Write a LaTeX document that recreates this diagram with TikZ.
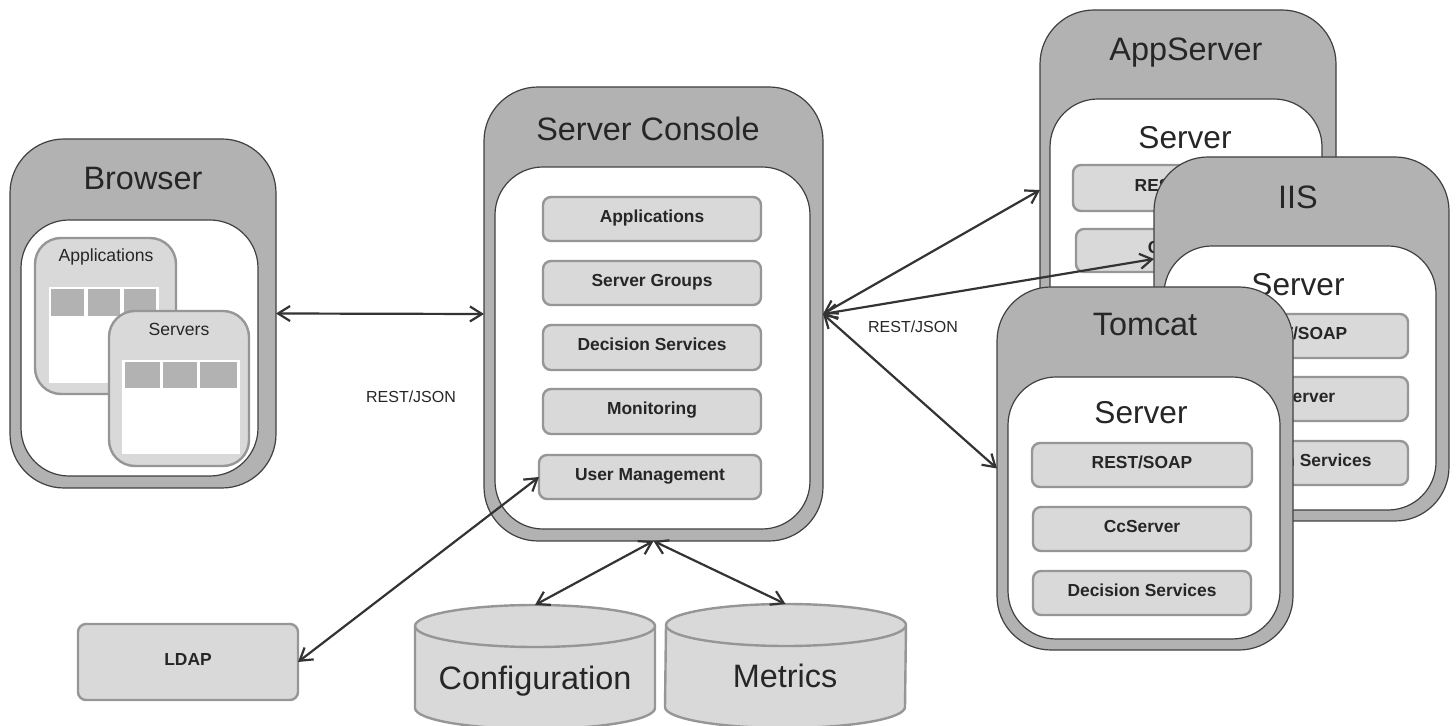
\documentclass[tikz,border=0pt]{standalone}
\usepackage{fontspec}
\setmainfont{Liberation Sans}
\usetikzlibrary{arrows.meta,calc}
\definecolor{outerfill}{HTML}{B2B2B2}
\definecolor{outerline}{HTML}{404040}
\definecolor{boxfill}{HTML}{D9D9D9}
\definecolor{boxline}{HTML}{969696}
\definecolor{inktext}{HTML}{262626}
\definecolor{arrowink}{HTML}{333333}
\newcommand\pxbox[7]{\node[#1,minimum width={(#5-#3)*0.5pt},minimum height={(#6-#4)*0.5pt}] (#2) at ({(#3+#5)/2},{(#4+#6)/2}) {#7};}
\newcommand\pxstore[1]{%
  \draw[storeline] ($(#1.north west)+(0,21)$) arc[x radius=120,y radius=21,start angle=180,end angle=360]
    -- ($(#1.south east)+(0,-21)$) arc[x radius=120,y radius=21,start angle=0,end angle=180] -- cycle;
  \draw[storeline] ($(#1.north west)+(0,21)$) arc[x radius=120,y radius=21,start angle=180,end angle=0];
}
\tikzset{
  every node/.style={outer sep=0pt,inner sep=0pt,text=inktext},
  outerbox/.style={draw=outerline,fill=outerfill,line width=0.6pt,rounded corners=27pt},
  innerbox/.style={draw=outerline,fill=white,line width=0.6pt,rounded corners=24pt},
  compbox/.style={draw=boxline,fill=boxfill,line width=1.2pt,rounded corners=4pt,font=\bfseries\fontsize{8.7}{10}\selectfont,text height=6.3pt,text depth=3.2pt},
  panel/.style={draw=boxline,fill=boxfill,line width=1.2pt,rounded corners=13pt},
  tablebody/.style={fill=white},
  tablecell/.style={fill=outerfill},
  titletext/.style={font=\fontsize{16.2}{18}\selectfont},
  servertext/.style={font=\fontsize{15.8}{18}\selectfont},
  smalltext/.style={font=\fontsize{8.8}{10}\selectfont},
  notetext/.style={font=\fontsize{8}{10}\selectfont},
  storeline/.style={draw=boxline,fill=boxfill,line width=1.2pt},
  link/.style={draw=arrowink,line width=1.1pt,{Straight Barb[length=6pt,width=7.5pt]}-{Straight Barb[length=6pt,width=7.5pt]}}
}
\begin{document}
\begin{tikzpicture}[x=0.5pt,y=-0.5pt]
\useasboundingbox (0,0) rectangle (1456,726);
% Browser
\pxbox{outerbox}{browser}{10}{139}{276}{488}{}
\node[titletext] (browsertitle) at (143,179) {Browser};
\pxbox{innerbox}{browserin}{21}{220}{258}{476}{}
\pxbox{panel}{apppanel}{35}{238}{176}{394}{}
\node[smalltext] (apptitle) at (106,257) {Applications};
\pxbox{tablebody}{apptable}{49}{287}{159}{383}{}
\pxbox{tablecell}{appa}{51}{289}{84}{316}{}
\pxbox{tablecell}{appb}{88}{289}{120}{316}{}
\pxbox{tablecell}{appc}{124}{289}{156}{316}{}
\pxbox{panel}{srvpanel}{109}{311}{249}{466}{}
\node[smalltext] (srvtitle) at (179,329) {Servers};
\pxbox{tablebody}{srvtable}{122}{360}{240}{454}{}
\pxbox{tablecell}{srva}{125}{362}{160}{388}{}
\pxbox{tablecell}{srvb}{163}{362}{197}{388}{}
\pxbox{tablecell}{srvc}{200}{362}{237}{388}{}
% Server Console
\pxbox{outerbox}{console}{484}{87}{823}{541}{}
\node[titletext] (consoletitle) at (648,129) {Server Console};
\pxbox{innerbox}{consolein}{495}{167}{810}{529}{}
\pxbox{compbox}{capps}{543}{197}{761}{241}{Applications}
\pxbox{compbox}{cgroups}{543}{261}{761}{305}{Server Groups}
\pxbox{compbox}{cdec}{543}{325}{761}{370}{Decision Services}
\pxbox{compbox}{cmon}{543}{389}{761}{434}{Monitoring}
\pxbox{compbox}{cuser}{539}{455}{761}{499}{User Management}
% AppServer
\pxbox{outerbox}{app}{1040}{10}{1336}{370}{}
\node[titletext] (apptitleb) at (1186,53) {AppServer};
\pxbox{innerbox}{appin}{1050}{99}{1322}{360}{}
\node[servertext] (appsrv) at (1185,138) {Server};
\pxbox{compbox}{arest}{1073}{165}{1297}{211}{REST/SOAP}
\pxbox{compbox}{acc}{1076}{229}{1296}{272}{CcServer}
% IIS
\pxbox{outerbox}{iis}{1154}{157}{1449}{521}{}
\node[titletext] (iistitle) at (1298,197) {IIS};
\pxbox{innerbox}{iisin}{1164}{246}{1436}{510}{}
\node[servertext] (iissrv) at (1298,285) {Server};
\pxbox{compbox}{irest}{1186}{314}{1408}{358}{REST/SOAP}
\pxbox{compbox}{icc}{1186}{377}{1408}{421}{CcServer}
\pxbox{compbox}{idec}{1186}{441}{1408}{485}{Decision Services}
% Tomcat
\pxbox{outerbox}{tomcat}{997}{287}{1293}{650}{}
\node[titletext] (tomcattitle) at (1145,325) {Tomcat};
\pxbox{innerbox}{tomcatin}{1008}{377}{1280}{639}{}
\node[servertext] (tomcatsrv) at (1141,413) {Server};
\pxbox{compbox}{trest}{1032}{443}{1252}{487}{REST/SOAP}
\pxbox{compbox}{tcc}{1033}{507}{1251}{551}{CcServer}
\pxbox{compbox}{tdec}{1033}{571}{1251}{615}{Decision Services}
% Stores and LDAP
\pxbox{compbox}{ldap}{78}{624}{298}{700}{LDAP}
\pxbox{}{config}{415}{605}{655}{729}{}
\pxstore{config}
\node[titletext] (configtext) at (535,681) {Configuration};
\pxbox{}{metrics}{666}{604}{905}{728}{}
\pxstore{metrics}
\node[titletext] (metricstext) at (785,676) {Metrics};
% Labels
\node[notetext] (rest1) at (411,397) {REST/JSON};
\node[notetext] (rest2) at (913,327) {REST/JSON};
% Connectors
\draw[link] (browser.east) -- (console.west);
\draw[link] (console.east) -- (app.west);
\draw[link] (console.east) -- ($(iis.north west)!0.28!(iis.south west)$);
\draw[link] (console.east) -- (tomcat.west);
\draw[link] (ldap.east) -- (cuser.west);
\draw[link] (console.south) -- (config.north);
\draw[link] (console.south) -- (metrics.north);
\end{tikzpicture}
\end{document}
